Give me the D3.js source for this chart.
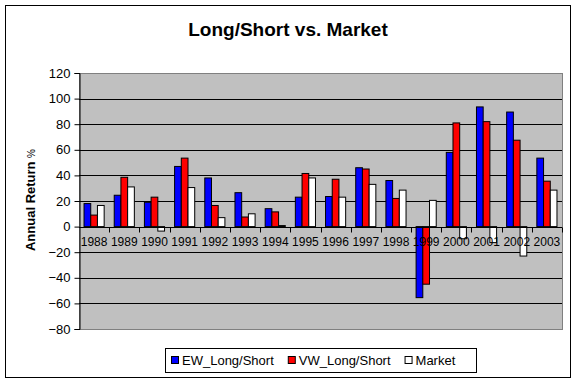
<!DOCTYPE html>
<html>
<head>
<meta charset="utf-8">
<script src="https://cdn.jsdelivr.net/npm/d3@7"></script>
<style>
  html, body { margin: 0; padding: 0; background: #fff; }
  svg { display: block; font-family: "Liberation Sans", Arial, sans-serif; }
</style>
</head>
<body>
<svg id="chart" width="576" height="382"></svg>
<script>
const years = ["1988","1989","1990","1991","1992","1993","1994","1995","1996","1997","1998","1999","2000","2001","2002","2003"];
const seriesNames = ["EW_Long/Short", "VW_Long/Short", "Market"];
const ewLongShort = [18, 24.5, 19, 47, 38, 26.5, 14, 23, 23.5, 46, 36, -55.5, 58, 93.5, 89.5, 53.5];
const vwLongShort = [9, 38.5, 23, 53.5, 16.5, 7.5, 11.5, 41.5, 37, 45, 22, -45, 81, 82, 67.5, 35.5];
const market      = [16.5, 31, -3.5, 30.5, 7, 10, 0.8, 38, 23, 33, 28.5, 20.5, -9.5, -12.5, -23, 28.5];
const yTicks = [-80, -60, -40, -20, 0, 20, 40, 60, 80, 100, 120];
const seriesColors = ["#0000FF", "#FF0000", "#FFFFFF"];

const svg = d3.select("#chart");

// outer chart border
svg.append("rect").attr("x", 5.5).attr("y", 5.5).attr("width", 565).attr("height", 372)
  .attr("fill", "#fff").attr("stroke", "#000").attr("stroke-width", 1);

const plot = { left: 79, top: 73, right: 562, bottom: 329 };
const W = plot.right - plot.left, H = plot.bottom - plot.top;

const g = svg.append("g").attr("transform", `translate(${plot.left},${plot.top})`);

const y = d3.scaleLinear().domain([-80, 120]).range([H, 0]);
const x0 = d3.scaleBand().domain(years).range([0, W]).padding(0);
const bw = x0.bandwidth();
const x1 = d3.scaleBand().domain(seriesNames).range([bw * 0.75 / 4.5, bw - bw * 0.75 / 4.5]).padding(0);

// plot background
g.append("rect").attr("x", 0).attr("y", 0).attr("width", W).attr("height", H)
  .attr("fill", "#C0C0C0").attr("stroke", "#808080").attr("stroke-width", 1)
  .attr("shape-rendering", "crispEdges");

// gridlines
g.append("g").selectAll("line").data(yTicks.filter(d => d !== 120 && d !== -80)).join("line")
  .attr("x1", 0).attr("x2", W)
  .attr("y1", d => Math.round(y(d)) + 0.5).attr("y2", d => Math.round(y(d)) + 0.5)
  .attr("stroke", "#000").attr("stroke-width", 1);

// bars
const data = years.map((yr, i) => ({ year: yr, vals: [ewLongShort[i], vwLongShort[i], market[i]] }));
const groups = g.append("g").selectAll("g").data(data).join("g")
  .attr("transform", d => `translate(${x0(d.year)},0)`);
groups.selectAll("rect").data(d => d.vals.map((v, j) => ({ v, j }))).join("rect")
  .attr("x", d => x1(seriesNames[d.j]))
  .attr("width", x1.bandwidth())
  .attr("y", d => y(Math.max(0, d.v)))
  .attr("height", d => Math.abs(y(d.v) - y(0)))
  .attr("fill", d => seriesColors[d.j])
  .attr("stroke", "#000").attr("stroke-width", 1);

// y axis
const yAxis = d3.axisLeft(y).tickValues(yTicks).tickSize(5).tickPadding(4).tickFormat(d3.format("d"));
const ya = g.append("g").attr("transform", "translate(0.5,0)").call(yAxis);
ya.select(".domain").attr("stroke", "#000");
ya.selectAll("text").attr("font-size", 13).attr("fill", "#000");

// x axis at zero
const xAxis = d3.axisBottom(x0).tickSize(0).tickPadding(10);
const xa = g.append("g").attr("transform", `translate(0,${Math.round(y(0)) + 0.5})`).call(xAxis);
xa.select(".domain").attr("stroke", "#000").attr("d", `M0,0H${W}`);
xa.selectAll("text").attr("font-size", 12).attr("fill", "#000");
// category boundary tick marks
xa.append("g").selectAll("line").data(years).join("line")
  .attr("x1", (d, i) => Math.round(bw * (i + 1)) + 0.5)
  .attr("x2", (d, i) => Math.round(bw * (i + 1)) + 0.5)
  .attr("y1", 0).attr("y2", 5).attr("stroke", "#000");

// title
svg.append("text").attr("x", 288).attr("y", 36).attr("text-anchor", "middle")
  .attr("font-size", 19).attr("font-weight", "bold").text("Long/Short vs. Market");

// y label
const yl = svg.append("text").attr("transform", "translate(35,200) rotate(-90)")
  .attr("text-anchor", "middle").attr("font-size", 13).attr("font-weight", "bold");
yl.append("tspan").text("Annual Return ");
yl.append("tspan").attr("font-weight", "normal").attr("font-size", 10).text("%");

// legend
const lg = svg.append("g");
lg.append("rect").attr("x", 165.5).attr("y", 348.5).attr("width", 311).attr("height", 24)
  .attr("fill", "#fff").attr("stroke", "#000");
let lx = 171;
seriesNames.forEach((name, i) => {
  lg.append("rect").attr("x", lx + 0.5).attr("y", 356.5).attr("width", 7).attr("height", 7)
    .attr("fill", seriesColors[i]).attr("stroke", "#000");
  const t = lg.append("text").attr("x", lx + 11).attr("y", 365).attr("font-size", 13).text(name);
  lx += 11 + t.node().getComputedTextLength() + 14;
});
</script>
</body>
</html>
